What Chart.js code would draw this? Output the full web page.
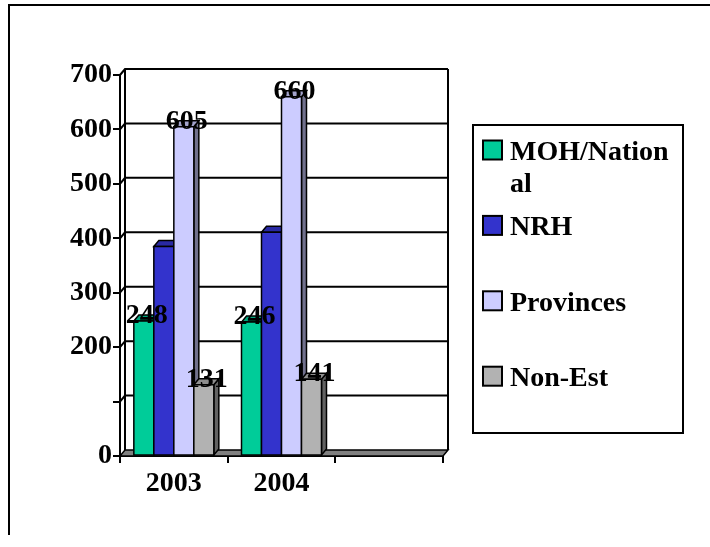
<!DOCTYPE html>
<html>
<head>
<meta charset="utf-8">
<script src="https://cdn.jsdelivr.net/npm/chart.js@4/dist/chart.umd.min.js"></script>
<style>
html,body{margin:0;padding:0;background:#fff;}
canvas{display:block;}
</style>
</head>
<body>
<canvas id="c" width="710" height="547"></canvas>
<script>
// ---- data ----
const categories = ['2003', '2004', ''];
const seriesNames = ['MOH/National', 'NRH', 'Provinces', 'Non-Est'];
const mohValues = [248, 246, null];
const nrhValues = [385, 411, null];
const provincesValues = [605, 660, null];
const nonEstValues = [131, 141, null];
const yTickLabels = ['0', '', '200', '300', '400', '500', '600', '700'];
const labelledSeries = [true, false, true, true];
const seriesColors = ['#00CC99', '#3333CC', '#CCCCFF', '#B2B2B2'];

const FONT = "'Liberation Serif','Times New Roman',serif";
const DX = 5, DY = -6;

function shade(hex, f) {
  const n = parseInt(hex.slice(1), 16);
  const r = Math.round(((n >> 16) & 255) * f);
  const g = Math.round(((n >> 8) & 255) * f);
  const b = Math.round((n & 255) * f);
  return `rgb(${r},${g},${b})`;
}

function poly(ctx, pts, fill) {
  ctx.beginPath();
  ctx.moveTo(pts[0][0], pts[0][1]);
  for (let i = 1; i < pts.length; i++) ctx.lineTo(pts[i][0], pts[i][1]);
  ctx.closePath();
  ctx.fillStyle = fill;
  ctx.fill();
  ctx.stroke();
}

const threeD = {
  id: 'threeD',
  beforeDraw(chart) {
    const ctx = chart.ctx;
    ctx.save();
    ctx.fillStyle = '#fff';
    ctx.fillRect(0, 0, chart.width, chart.height);
    ctx.strokeStyle = '#000';
    ctx.lineWidth = 2;
    ctx.beginPath();
    ctx.moveTo(9, 535);
    ctx.lineTo(9, 5);
    ctx.lineTo(chart.width, 5);
    ctx.stroke();
    ctx.restore();
  },
  beforeDatasetsDraw(chart) {
    const ctx = chart.ctx;
    const ys = chart.scales.y;
    const a = chart.chartArea;
    ctx.save();
    ctx.strokeStyle = '#000';
    ctx.lineWidth = 2;
    // back wall gridlines + side-wall diagonals
    ys.ticks.forEach(t => {
      const y = ys.getPixelForValue(t.value);
      if (t.value === 0) return;
      ctx.beginPath();
      ctx.moveTo(a.left, y);
      ctx.lineTo(a.left + DX, y + DY);
      ctx.lineTo(a.right + DX, y + DY);
      ctx.stroke();
    });
    // back wall edges
    ctx.beginPath();
    ctx.moveTo(a.left + DX, a.bottom + DY);
    ctx.lineTo(a.left + DX, a.top + DY);
    ctx.moveTo(a.right + DX, a.top + DY);
    ctx.lineTo(a.right + DX, a.bottom + DY);
    ctx.stroke();
    // floor
    ctx.lineWidth = 1.5;
    poly(ctx, [[a.left, a.bottom], [a.right, a.bottom], [a.right + DX, a.bottom + DY], [a.left + DX, a.bottom + DY]], '#808080');
    ctx.restore();
  },
  afterDatasetsDraw(chart) {
    const ctx = chart.ctx;
    ctx.save();
    ctx.strokeStyle = '#000';
    ctx.lineWidth = 1.5;
    ctx.lineJoin = 'miter';
    const n = chart.data.labels.length;
    for (let j = 0; j < n; j++) {
      chart.data.datasets.forEach((ds, i) => {
        const v = ds.data[j];
        if (v === null || v === undefined) return;
        const el = chart.getDatasetMeta(i).data[j];
        const p = el.getProps(['x', 'y', 'base', 'width'], true);
        const L = p.x - p.width / 2, R = p.x + p.width / 2, T = p.y, B = p.base;
        const c = seriesColors[i];
        poly(ctx, [[R, T], [R + DX, T + DY], [R + DX, B + DY], [R, B]], shade(c, 0.55));
        poly(ctx, [[L, T], [L + DX, T + DY], [R + DX, T + DY], [R, T]], shade(c, 0.8));
        poly(ctx, [[L, T], [R, T], [R, B], [L, B]], c);
      });
    }
    // value labels
    ctx.fillStyle = '#000';
    ctx.font = 'bold 28px ' + FONT;
    ctx.textAlign = 'center';
    ctx.textBaseline = 'alphabetic';
    chart.data.datasets.forEach((ds, i) => {
      if (!labelledSeries[i]) return;
      chart.getDatasetMeta(i).data.forEach((el, j) => {
        const v = ds.data[j];
        if (v === null || v === undefined) return;
        const p = el.getProps(['x', 'y'], true);
        ctx.fillText(String(v), p.x + 3, p.y + 2);
      });
    });
    ctx.restore();
  },
  afterDraw(chart) {
    const ctx = chart.ctx;
    ctx.save();
    const bx = 473, by = 125, bw = 210, bh = 308;
    ctx.strokeStyle = '#000';
    ctx.lineWidth = 2;
    ctx.strokeRect(bx, by, bw, bh);
    ctx.font = 'bold 28px ' + FONT;
    ctx.textAlign = 'left';
    ctx.textBaseline = 'alphabetic';
    const textX = 510, maxW = bx + bw - textX - 4;
    chart.data.datasets.forEach((ds, i) => {
      const cy = 150 + i * 75.4;
      ctx.fillStyle = seriesColors[i];
      ctx.fillRect(483, cy - 9.5, 19, 19);
      ctx.lineWidth = 2;
      ctx.strokeRect(483, cy - 9.5, 19, 19);
      // char-wrap label
      const lines = [];
      let cur = '';
      for (const ch of ds.label) {
        if (ctx.measureText(cur + ch).width > maxW && cur) { lines.push(cur); cur = ch; }
        else cur += ch;
      }
      lines.push(cur);
      ctx.fillStyle = '#000';
      lines.forEach((ln, k) => ctx.fillText(ln, textX, cy + 10 + k * 32));
    });
    ctx.restore();
  }
};

const seriesData = [mohValues, nrhValues, provincesValues, nonEstValues];

new Chart(document.getElementById('c'), {
  type: 'bar',
  data: {
    labels: categories,
    datasets: seriesNames.map((name, i) => ({
      label: name,
      data: seriesData[i],
      backgroundColor: seriesColors[i],
      borderWidth: 0,
      categoryPercentage: 0.743,
      barPercentage: 1.0
    }))
  },
  options: {
    responsive: false,
    animation: false,
    events: [],
    layout: { padding: { left: 20, right: 267, top: 75, bottom: 41 } },
    plugins: { legend: { display: false }, tooltip: { enabled: false } },
    scales: {
      x: {
        type: 'category',
        offset: true,
        grid: { offset: true, drawOnChartArea: false, drawTicks: true, tickLength: 7, color: '#000', lineWidth: 2 },
        border: { display: true, color: '#000', width: 2 },
        ticks: { color: '#000', font: { family: FONT, size: 28, weight: 'bold' }, padding: 4, maxRotation: 0, autoSkip: false },
        afterFit(s) { s.height = 50; }
      },
      y: {
        min: 0,
        max: 700,
        grid: { drawOnChartArea: false, drawTicks: true, tickLength: 7, color: '#000', lineWidth: 2 },
        border: { display: true, color: '#000', width: 2 },
        ticks: {
          stepSize: 100,
          color: '#000',
          padding: 1,
          font: { family: FONT, size: 28, weight: 'bold' },
          callback: (v, idx) => yTickLabels[idx]
        },
        afterFit(s) { s.width = 100; }
      }
    }
  },
  plugins: [threeD]
});
</script>
</body>
</html>
